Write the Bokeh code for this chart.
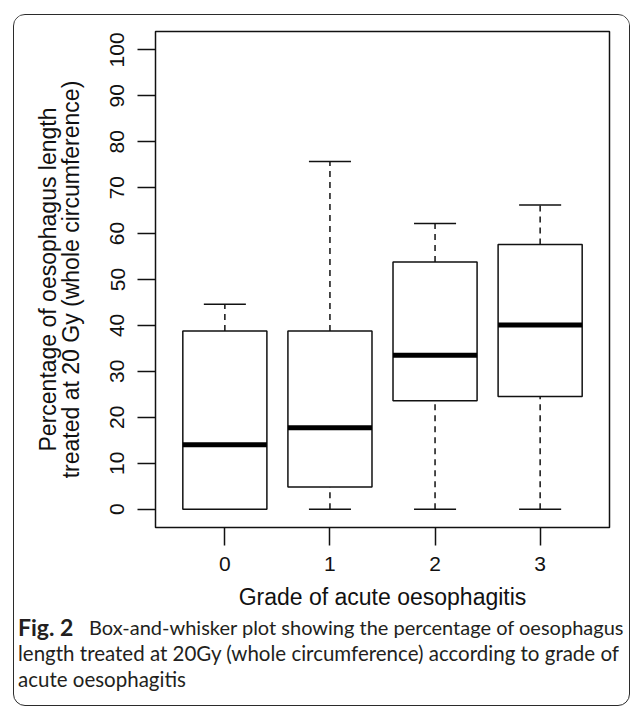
from bokeh.plotting import figure
from bokeh.layouts import column
from bokeh.models import Range1d, FixedTicker, LinearAxis, ColumnDataSource
from bokeh.core.properties import value
from bokeh.embed import file_html
from bokeh.resources import INLINE

# ---- data ----
grades = ["0", "1", "2", "3"]
whisker_low = [0.0, 0.0, 0.0, 0.0]
q1 = [0.0, 4.8, 23.6, 24.5]
median = [14.0, 17.7, 33.5, 40.1]
q3 = [38.8, 38.8, 53.8, 57.6]
whisker_high = [44.6, 75.7, 62.2, 66.2]
y_ticks = [0, 10, 20, 30, 40, 50, 60, 70, 80, 90, 100]

x_title = "Grade of acute oesophagitis"
y_title_1 = "Percentage of oesophagus length"
y_title_2 = "treated at 20 Gy (whole circumference)"
cap_bold = "Fig. 2"
cap_lines = [
    "Box-and-whisker plot showing the percentage of oesophagus",
    "length treated at 20Gy (whole circumference) according to grade of",
    "acute oesophagitis",
]

# ---- sizes ----
IW = 615            # inner width of the rounded frame
PH = 600            # main figure height
OV = 12             # caption area overlaps the (empty) bottom strip of the plot
CH = 90 + OV        # caption area height
FL, FR, FT, FB = 141, 20, 16, 88

pos = [i + 1 for i in range(len(grades))]
box_w = 0.8
src = ColumnDataSource(dict(
    x=pos, lo=whisker_low, q1=q1, med=median, q3=q3, hi=whisker_high,
    bl=[x - box_w / 2 for x in pos], br=[x + box_w / 2 for x in pos],
    sl=[x - box_w / 4 for x in pos], sr=[x + box_w / 4 for x in pos],
))

p = figure(width=IW, height=PH, output_backend="svg", toolbar_location=None,
           x_range=Range1d(0.34, 4.66), y_range=Range1d(-4, 104), frame_align=False,
           min_border_left=FL, min_border_right=FR, min_border_top=FT, min_border_bottom=FB)
p.background_fill_color = "white"
p.border_fill_color = "white"
p.outline_line_color = "#111111"
p.outline_line_width = 1.5
p.xgrid.grid_line_color = None
p.ygrid.grid_line_color = None

ink = "#111111"
p.segment(x0="x", y0="q3", x1="x", y1="hi", source=src, line_color=ink, line_width=1.5, line_dash="6 5")
p.segment(x0="x", y0="lo", x1="x", y1="q1", source=src, line_color=ink, line_width=1.5, line_dash="6 5")
p.segment(x0="sl", y0="hi", x1="sr", y1="hi", source=src, line_color=ink, line_width=1.5)
p.segment(x0="sl", y0="lo", x1="sr", y1="lo", source=src, line_color=ink, line_width=1.5)
p.vbar(x="x", width=box_w, bottom="q1", top="q3", source=src, fill_color="white",
       line_color=ink, line_width=1.5)
p.segment(x0="bl", y0="med", x1="br", y1="med", source=src, line_color="black", line_width=5, line_cap="butt")

font = "Liberation Sans"
def style_axis(ax):
    ax.axis_line_color = None
    ax.major_tick_out = 18
    ax.major_tick_in = 0
    ax.minor_tick_line_color = None
    ax.major_tick_line_color = ink
    ax.major_tick_line_width = 1.5
    ax.major_label_text_font = font
    ax.major_label_text_font_size = "21px"
    ax.major_label_text_color = ink
    ax.axis_label_text_font = font
    ax.axis_label_text_font_size = "23px"
    ax.axis_label_text_font_style = "normal"
    ax.axis_label_text_color = ink

style_axis(p.xaxis[0])
style_axis(p.yaxis[0])

p.xaxis.ticker = FixedTicker(ticks=pos)
p.xaxis.major_label_overrides = {x: g for x, g in zip(pos, grades)}
p.xaxis.major_label_standoff = 11
p.xaxis.axis_label = x_title
p.xaxis.axis_label_standoff = 10

p.yaxis.ticker = FixedTicker(ticks=y_ticks)
p.yaxis.major_label_orientation = "vertical"
p.yaxis.major_label_standoff = 13
p.yaxis.axis_label = y_title_2
p.yaxis.axis_label_standoff = 24

# second (outer) line of the y-axis title
ax2 = LinearAxis(ticker=FixedTicker(ticks=[]), axis_label=y_title_1)
style_axis(ax2)
ax2.major_tick_line_color = None
ax2.axis_label_standoff = -6
p.add_layout(ax2, "left")

# ---- caption ----
cap = figure(width=IW, height=CH, output_backend="svg", toolbar_location=None,
             x_range=Range1d(0, IW), y_range=Range1d(CH, 0), frame_align=False,
             min_border=0, min_border_left=0, min_border_right=0,
             min_border_top=0, min_border_bottom=0, margin=(-OV, 0, 0, 0))
cap.axis.visible = False
cap.grid.visible = False
cap.outline_line_color = None
cap.background_fill_alpha = 0
cap.border_fill_alpha = 0

cap_font = "Lato"
cap_color = "#231f20"
cap_x = 3.5
cap_y = [11.5 + OV, 37.5 + OV, 63.5 + OV]
cap.text(x=[cap_x], y=[cap_y[0]], text=[cap_bold], text_font=value(cap_font), text_font_size="23px",
         text_font_style="bold", text_color=cap_color, text_baseline="alphabetic")
cap.text(x=[cap_x + 71], y=[cap_y[0]], text=[cap_lines[0]], text_font=value(cap_font),
         text_font_size="20px", text_color=cap_color, text_baseline="alphabetic")
cap.text(x=[cap_x, cap_x], y=cap_y[1:], text=cap_lines[1:], text_font=value(cap_font),
         text_font_size="20.5px", text_color=cap_color, text_baseline="alphabetic")

layout = column(p, cap, spacing=0, margin=(14, 0, 0, 13),
                styles={"border": "1.5px solid #2b2b2b", "border-radius": "12px",
                        "overflow": "hidden", "background": "white"})

open("out.html", "w").write(file_html(layout, INLINE))
